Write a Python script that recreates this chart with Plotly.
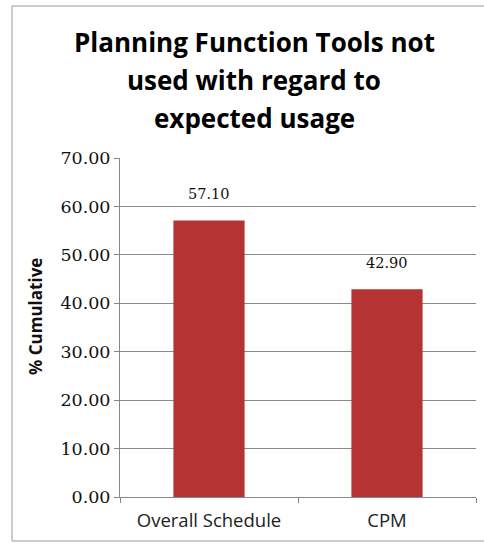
import plotly.graph_objects as go

categories = ["Overall Schedule", "CPM"]
values = [57.10, 42.90]
y_ticks = [0, 10, 20, 30, 40, 50, 60, 70]
y_tick_labels = ["%.2f" % v for v in y_ticks]
title_lines = ["Planning Function Tools not", "used with regard to", "expected usage"]
y_title = "% Cumulative"

W, H = 484, 544
L, R, T, B = 120, 476, 158, 497

def px_x(p):
    return (p - L) / (R - L)

def px_y(p):
    return (B - p) / (B - T)

fig = go.Figure()
fig.add_trace(go.Bar(
    x=categories, y=values, width=0.4,
    marker=dict(color="#b63333", line=dict(width=0)),
    hoverinfo="x+y",
))

annotations = []
for c, v in zip(categories, values):
    annotations.append(dict(x=c, y=v, xref="x", yref="y", text="%.2f" % v,
                            showarrow=False, yanchor="middle", yshift=26,
                            font=dict(family="DejaVu Serif", size=14.5, color="#111")))
for i, line in enumerate(title_lines):
    annotations.append(dict(x=px_x(254), y=px_y(42 + 38 * i), xref="paper", yref="paper",
                            text="<b>%s</b>" % line, showarrow=False,
                            xanchor="center", yanchor="middle",
                            font=dict(family="Open Sans", size=26, color="#000")))
annotations.append(dict(x=px_x(35), y=px_y(317), xref="paper", yref="paper",
                        text="<b>%s</b>" % y_title, showarrow=False, textangle=-90,
                        xanchor="center", yanchor="middle",
                        font=dict(family="Open Sans", size=17, color="#111")))

fig.update_layout(
    width=W, height=H,
    margin=dict(l=L, r=W - R, t=T, b=H - B),
    paper_bgcolor="white", plot_bgcolor="white",
    showlegend=False,
    annotations=annotations,
    shapes=[dict(type="rect", xref="paper", yref="paper",
                 x0=px_x(12), x1=px_x(492), y0=px_y(541), y1=px_y(6),
                 line=dict(color="#9a9a9a", width=1), fillcolor="rgba(0,0,0,0)")],
    xaxis=dict(showline=True, linecolor="#888", linewidth=1,
               ticks="outside", tickson="boundaries", ticklen=5, tickcolor="#888",
               ticklabelstandoff=7,
               tickfont=dict(family="Open Sans", size=18.5, color="#222"),
               showgrid=False, fixedrange=True),
    yaxis=dict(range=[0, 70], tickvals=y_ticks, ticktext=y_tick_labels,
               showline=True, linecolor="#888", linewidth=1,
               ticks="outside", ticklen=5, tickcolor="#888",
               tickfont=dict(family="DejaVu Serif", size=17.5, color="#111"),
               showgrid=True, gridcolor="#8a8a8a", gridwidth=1,
               zeroline=False, fixedrange=True),
)

fig.write_html("out.html")
